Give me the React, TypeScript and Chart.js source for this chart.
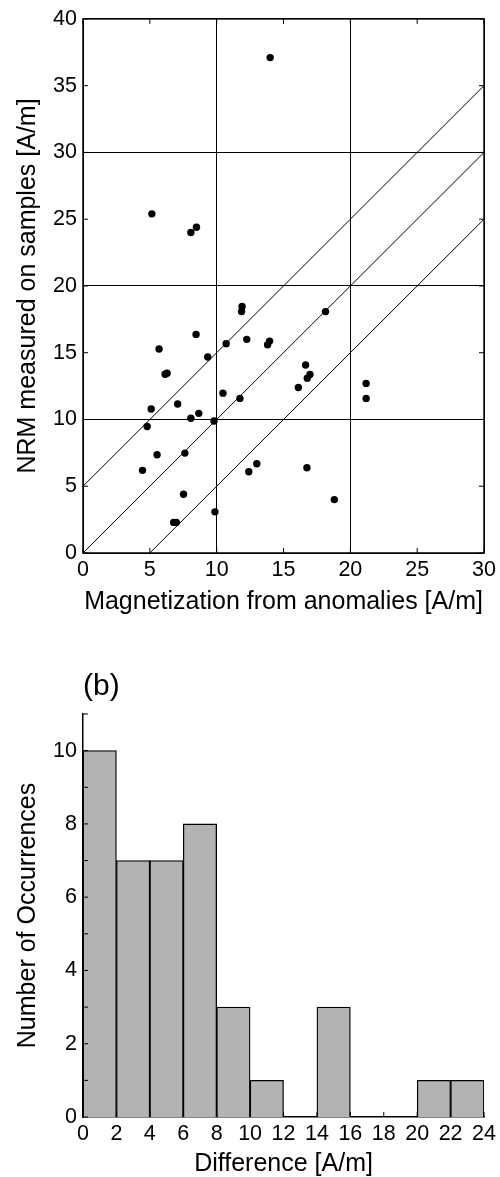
import React, { useEffect, useRef } from "react";
import { Chart, registerables } from "chart.js";

Chart.register(...registerables);

// ---- Panel (a): scatter data ----
const magnetizationX = [
  5.15, 8.07, 8.49, 14.0, 11.9, 11.86, 8.46, 5.69, 9.33, 10.71, 12.25, 6.14, 6.29, 5.1,
  7.08, 4.8, 8.07, 8.66, 9.8, 10.47, 11.74, 4.45, 5.54, 7.62, 7.52, 6.78, 6.98, 9.87,
  12.4, 18.14, 13.81, 13.96, 16.65, 16.11, 16.78, 16.98, 21.18, 21.18, 13.0, 16.75, 18.8,
];
const nrmY = [
  25.4, 24.0, 24.4, 37.1, 18.46, 18.08, 16.37, 15.28, 14.68, 15.68, 16.0, 13.39, 13.47, 10.78,
  11.16, 9.47, 10.09, 10.46, 9.89, 11.97, 11.58, 6.19, 7.36, 7.48, 4.4, 2.29, 2.29, 3.08,
  6.09, 18.08, 15.6, 15.87, 14.08, 12.4, 13.09, 13.37, 12.7, 11.58, 6.68, 6.39, 4.0,
];
// reference lines y = x + 5, y = x, y = x - 5
const upperLineX = [0, 30];
const upperLineY = [5, 35];
const middleLineX = [0, 30];
const middleLineY = [0, 30];
const lowerLineX = [5, 30];
const lowerLineY = [0, 25];

// ---- Panel (b): histogram data ----
const binCenters = [1, 3, 5, 7, 9, 11, 13, 15, 17, 19, 21, 23];
const binCounts = [10, 7, 7, 8, 3, 1, 0, 3, 0, 0, 1, 1];

const FONT = "'Liberation Sans', Arial, Helvetica, sans-serif";
const TICK_SIZE = 21.5;
const TITLE_SIZE = 25;

const innerTicks = {
  id: "innerTicks",
  afterDatasetsDraw(chart: any, _args: any, opts: any) {
    if (!opts || !opts.enabled) return;
    const { ctx, chartArea: a } = chart;
    const xs = chart.scales.x;
    const ys = chart.scales.y;
    const L = opts.len || 5;
    ctx.save();
    ctx.strokeStyle = "#000";
    ctx.lineWidth = 1;
    ctx.beginPath();
    xs.ticks.forEach((t: any) => {
      const px = xs.getPixelForValue(t.value);
      if (opts.bottom) {
        ctx.moveTo(px, a.bottom);
        ctx.lineTo(px, a.bottom - L);
      }
      if (opts.top) {
        ctx.moveTo(px, a.top);
        ctx.lineTo(px, a.top + L);
      }
    });
    ys.ticks.forEach((t: any) => {
      const py = ys.getPixelForValue(t.value);
      if (opts.left) {
        ctx.moveTo(a.left, py);
        ctx.lineTo(a.left + L, py);
      }
      if (opts.right) {
        ctx.moveTo(a.right, py);
        ctx.lineTo(a.right - L, py);
      }
    });
    ctx.stroke();
    if (opts.frame) {
      ctx.lineWidth = 1.5;
      ctx.strokeRect(a.left, a.top, a.right - a.left, a.bottom - a.top);
    }
    ctx.restore();
  },
};

function toPoints(xs: number[], ys: number[]) {
  return xs.map((x, i) => ({ x, y: ys[i] }));
}

function ScatterPanel() {
  const ref = useRef<HTMLCanvasElement>(null);
  useEffect(() => {
    if (!ref.current) return;
    const lineDs = (xs: number[], ys: number[]) => ({
      type: "line" as const,
      data: toPoints(xs, ys),
      borderColor: "#000",
      borderWidth: 1,
      pointRadius: 0,
      showLine: true,
      fill: false,
    });
    const chart = new Chart(ref.current, {
      type: "scatter",
      data: {
        datasets: [
          {
            data: toPoints(magnetizationX, nrmY),
            backgroundColor: "#000",
            borderWidth: 0,
            pointRadius: 3.7,
          } as any,
          lineDs(upperLineX, upperLineY),
          lineDs(middleLineX, middleLineY),
          lineDs(lowerLineX, lowerLineY),
        ],
      },
      options: {
        animation: false,
        responsive: false,
        layout: { padding: { left: 0, right: 13, top: 16, bottom: 0 } },
        plugins: {
          legend: { display: false },
          tooltip: { enabled: false },
          innerTicks: { enabled: true, len: 5, left: true, right: true, top: true, bottom: true, frame: true },
        } as any,
        scales: {
          x: {
            type: "linear",
            min: 0,
            max: 30,
            ticks: { stepSize: 5, color: "#000", font: { family: FONT, size: TICK_SIZE }, padding: 4, maxRotation: 0 },
            grid: {
              drawTicks: false,
              lineWidth: 1,
              color: (c: any) => (c.tick && c.tick.value % 10 === 0 ? "#000" : "rgba(0,0,0,0)"),
            },
            border: { display: false },
            title: {
              display: true,
              text: "Magnetization from anomalies [A/m]",
              color: "#000",
              font: { family: FONT, size: TITLE_SIZE, lineHeight: 1.2 },
              padding: { top: 0, bottom: 23 },
            },
            afterFit: (s: any) => {
              s.height = 87;
            },
          },
          y: {
            type: "linear",
            min: 0,
            max: 40,
            ticks: { stepSize: 5, color: "#000", font: { family: FONT, size: TICK_SIZE }, padding: 6 },
            grid: {
              drawTicks: false,
              lineWidth: 1,
              color: (c: any) => (c.tick && c.tick.value % 10 === 0 ? "#000" : "rgba(0,0,0,0)"),
            },
            border: { display: false },
            title: {
              display: true,
              text: "NRM measured on samples [A/m]",
              color: "#000",
              font: { family: FONT, size: TITLE_SIZE, lineHeight: 1.2 },
              padding: { top: 13, bottom: 0 },
            },
            afterFit: (s: any) => {
              s.width = 83;
            },
          },
        },
      },
      plugins: [innerTicks as any],
    });
    return () => chart.destroy();
  }, []);
  return (
    <canvas
      ref={ref}
      width={500}
      height={640}
      style={{ position: "absolute", left: 0, top: 0, width: 500, height: 640 }}
    />
  );
}

function HistogramPanel() {
  const ref = useRef<HTMLCanvasElement>(null);
  useEffect(() => {
    if (!ref.current) return;
    const chart = new Chart(ref.current, {
      type: "bar",
      data: {
        datasets: [
          {
            data: toPoints(binCenters, binCounts),
            backgroundColor: "#b3b3b3",
            borderColor: "#000",
            borderWidth: 1.3,
            barPercentage: 1,
            categoryPercentage: 1,
          } as any,
        ],
      },
      options: {
        animation: false,
        responsive: false,
        layout: { padding: { left: 0, right: 14, top: 0, bottom: 0 } },
        plugins: {
          legend: { display: false },
          tooltip: { enabled: false },
          title: {
            display: true,
            text: "(b)",
            align: "start",
            fullSize: false,
            color: "#000",
            font: { family: FONT, size: 30, weight: "normal", lineHeight: 1.2 },
            padding: { top: 29, bottom: 9 },
          },
          innerTicks: { enabled: true, len: 5, left: true, bottom: true },
        } as any,
        scales: {
          x: {
            type: "linear",
            min: 0,
            max: 24,
            offset: false,
            ticks: { stepSize: 2, color: "#000", font: { family: FONT, size: TICK_SIZE }, padding: 4, maxRotation: 0 },
            grid: { display: false, drawTicks: false },
            border: { display: true, color: "#000", width: 1.5 },
            title: {
              display: true,
              text: "Difference [A/m]",
              color: "#000",
              font: { family: FONT, size: TITLE_SIZE, lineHeight: 1 },
              padding: { top: 0, bottom: 0 },
            },
            afterFit: (s: any) => {
              s.height = 60;
            },
          },
          y: {
            type: "linear",
            min: 0,
            max: 11,
            ticks: {
              stepSize: 1,
              color: "#000",
              font: { family: FONT, size: TICK_SIZE },
              padding: 6,
              callback: (v: any) => (Number(v) % 2 === 0 ? String(v) : ""),
            },
            grid: { display: false, drawTicks: false },
            border: { display: true, color: "#000", width: 1.5 },
            title: {
              display: true,
              text: "Number of Occurrences",
              color: "#000",
              font: { family: FONT, size: TITLE_SIZE, lineHeight: 1.2 },
              padding: { top: 13, bottom: 0 },
            },
            afterFit: (s: any) => {
              s.width = 83;
            },
          },
        },
      },
      plugins: [innerTicks as any],
    });
    return () => chart.destroy();
  }, []);
  return (
    <canvas
      ref={ref}
      width={500}
      height={537}
      style={{ position: "absolute", left: 0, top: 640, width: 500, height: 537 }}
    />
  );
}

export default function App() {
  return (
    <div style={{ position: "absolute", left: 0, top: 0, width: 500, height: 1177, background: "#fff" }}>
      <ScatterPanel />
      <HistogramPanel />
    </div>
  );
}
